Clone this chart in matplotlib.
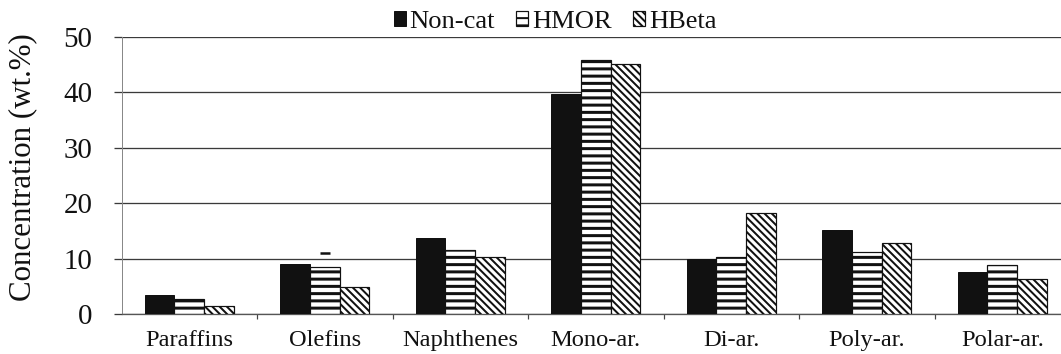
import matplotlib
matplotlib.use("Agg")
import matplotlib.pyplot as plt
import numpy as np

categories = ["Paraffins", "Olefins", "Naphthenes", "Mono-ar.", "Di-ar.", "Poly-ar.", "Polar-ar."]
series_names = ["Non-cat", "HMOR", "HBeta"]
non_cat = [3.4, 9.0, 13.7, 39.7, 9.9, 15.2, 7.5]
hmor = [2.7, 8.4, 11.6, 45.8, 10.2, 11.2, 8.8]
hbeta = [1.5, 4.9, 10.3, 45.1, 18.2, 12.8, 6.3]
hmor_olefins_cap = 11.1
y_ticks = [0, 10, 20, 30, 40, 50]

DPI = 87
W, H = 1061, 354


def pt(px):
    return px * 72.0 / DPI


plt.rcParams["font.family"] = ["Liberation Serif", "DejaVu Serif"]
plt.rcParams["hatch.color"] = "black"

fig = plt.figure(figsize=(W / DPI, H / DPI), dpi=DPI)
ax_left, ax_right, ax_top, ax_bottom = 121.5, 1070.0, 37.0, 314.0
ax = fig.add_axes([ax_left / W, 1 - ax_bottom / H,
                   (ax_right - ax_left) / W, (ax_bottom - ax_top) / H])

x = np.arange(len(categories))
bw = 0.218
ink = "#111111"

plt.rcParams["hatch.linewidth"] = pt(3.0)
b1 = ax.bar(x - bw, non_cat, bw, color=ink, edgecolor=ink, linewidth=pt(1.0),
            label=series_names[0], zorder=3)
b2 = ax.bar(x, hmor, bw, color="white", edgecolor=ink, linewidth=pt(1.2),
            hatch="--", label=series_names[1], zorder=3)
plt.rcParams["hatch.linewidth"] = pt(2.0)
b3 = ax.bar(x + bw, hbeta, bw, color="white", edgecolor=ink, linewidth=pt(1.2),
            hatch="\\\\\\\\", label=series_names[2], zorder=3)

# small cap mark above the HMOR olefins bar
ax.plot([x[1]], [hmor_olefins_cap], marker="_", color=ink,
        markersize=pt(10), markeredgewidth=pt(2.5), zorder=4)

ax.set_xlim(-0.5, len(categories) - 0.5)
ax.set_ylim(0, 50)
ax.set_yticks(y_ticks)
ax.yaxis.grid(True, color="#3a3a3a", linewidth=pt(1.3), zorder=0)
ax.set_axisbelow(True)

for side in ("top", "right"):
    ax.spines[side].set_visible(False)
ax.spines["left"].set_color("#888888")
ax.spines["left"].set_linewidth(pt(1.0))
ax.spines["bottom"].set_color("#555555")
ax.spines["bottom"].set_linewidth(pt(1.3))

ax.set_xticks(x)
ax.set_xticklabels(categories, fontsize=pt(24.5), color=ink)
ax.set_xticks(np.arange(0.5, len(categories) - 0.5, 1.0), minor=True)
ax.tick_params(axis="x", which="major", length=0, pad=pt(16))
ax.tick_params(axis="x", which="minor", length=pt(5), width=pt(1.2),
               color="#444444", direction="out")
ax.tick_params(axis="y", length=pt(8), width=pt(1.3), color="#3a3a3a",
               direction="out", pad=pt(21), labelsize=pt(29), labelcolor=ink)

ax.set_ylabel("Concentration (wt.%)", fontsize=pt(31), color=ink)
ax.yaxis.set_label_coords(-0.089, 0.53)

leg = fig.legend(handles=[b1, b2, b3], labels=series_names,
                 loc="center", bbox_to_anchor=(555 / W, 1 - 22 / H),
                 ncol=3, frameon=False, fontsize=pt(26.5),
                 handlelength=0.45, handleheight=0.45, handletextpad=0.15,
                 columnspacing=0.8, borderpad=0.0)
for t in leg.get_texts():
    t.set_color(ink)

fig.savefig("out.png", dpi=DPI)
